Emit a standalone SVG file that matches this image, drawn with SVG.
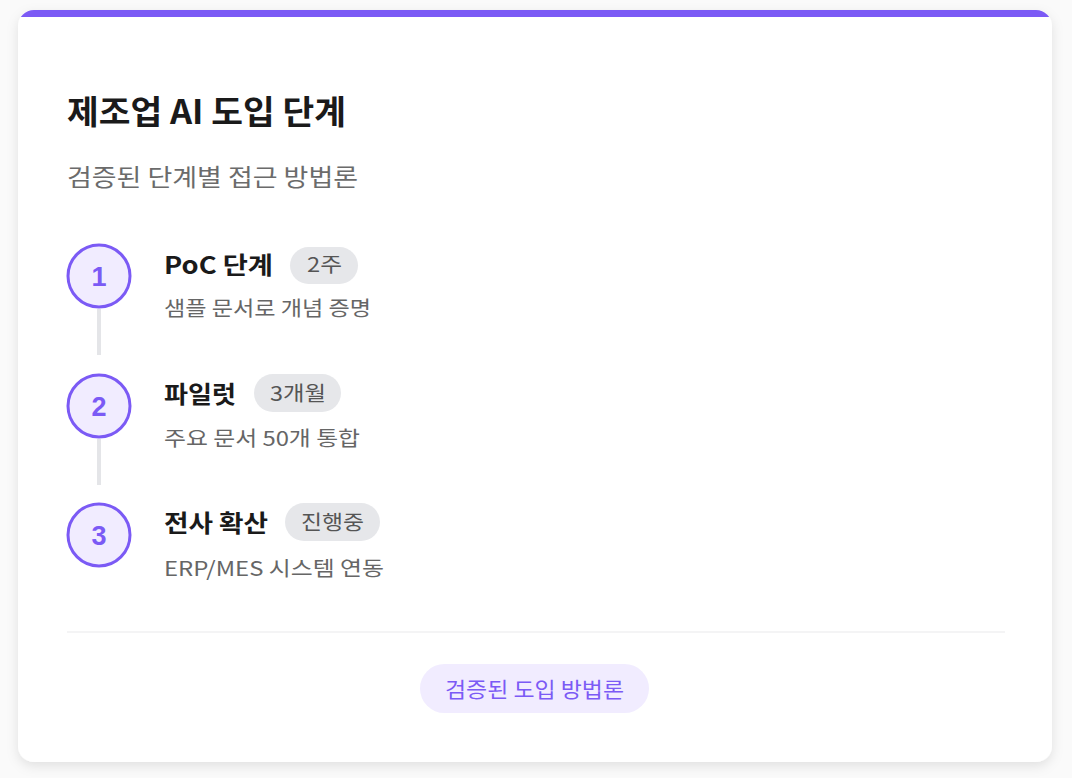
<svg xmlns="http://www.w3.org/2000/svg" width="1072" height="778" viewBox="0 0 1072 778">
<style>
text{font-family:"Noto Sans CJK KR","Noto Sans",sans-serif}
.title{font-size:33px;font-weight:700;fill:#1a1a1a}
.sub{font-size:24px;fill:#6b6b6b}
.st{font-size:24px;font-weight:700;fill:#1a1a1a}
.desc{font-size:20.5px;fill:#666}
.badge{fill:#e6e7ea}
.bt{font-size:20.5px;fill:#555}
.circ{fill:#f1ecff;stroke:#7b5af5;stroke-width:3}
.num{font-size:27px;font-weight:700;fill:#7b5af5;text-anchor:middle;font-family:"Liberation Sans","Noto Sans",sans-serif}
.conn{stroke:#e4e5e8;stroke-width:4}
</style>
<defs>
<filter id="sh" x="-10%" y="-10%" width="120%" height="130%">
<feDropShadow dx="0" dy="4" stdDeviation="6" flood-color="#000" flood-opacity="0.10"/>
</filter>
<clipPath id="cardclip"><rect x="18" y="10" width="1034" height="752" rx="16"/></clipPath>
</defs>
<rect width="1072" height="778" fill="#fafafa"/>
<g id="card">
<rect x="18" y="10" width="1034" height="752" rx="16" fill="#fff" filter="url(#sh)"/>
<g clip-path="url(#cardclip)"><rect x="18" y="10" width="1034" height="7" fill="#7b5af5"/></g>
</g>
<g id="header">
<text class="title" x="67" y="124" textLength="279" lengthAdjust="spacingAndGlyphs">제조업 AI 도입 단계</text>
<text class="sub" x="67" y="186" textLength="291" lengthAdjust="spacingAndGlyphs">검증된 단계별 접근 방법론</text>
</g>
<g id="connectors">
<line class="conn" x1="99" y1="309" x2="99" y2="355"/>
<line class="conn" x1="99" y1="439" x2="99" y2="485"/>
</g>
<g id="step1">
<circle class="circ" cx="99" cy="276" r="31"/>
<text class="num" x="99" y="286">1</text>
<text class="st" x="164" y="274" textLength="109" lengthAdjust="spacingAndGlyphs">PoC 단계</text>
<rect class="badge" x="290" y="247" width="68" height="37" rx="18.5"/>
<text class="bt" x="307" y="272" textLength="35" lengthAdjust="spacingAndGlyphs">2주</text>
<text class="desc" x="164" y="316" textLength="207" lengthAdjust="spacingAndGlyphs">샘플 문서로 개념 증명</text>
</g>
<g id="step2">
<circle class="circ" cx="99" cy="406" r="31"/>
<text class="num" x="99" y="416">2</text>
<text class="st" x="164" y="403" textLength="72" lengthAdjust="spacingAndGlyphs">파일럿</text>
<rect class="badge" x="254" y="374" width="87" height="38" rx="19"/>
<text class="bt" x="270" y="401" textLength="56" lengthAdjust="spacingAndGlyphs">3개월</text>
<text class="desc" x="164" y="446" textLength="196" lengthAdjust="spacingAndGlyphs">주요 문서 50개 통합</text>
</g>
<g id="step3">
<circle class="circ" cx="99" cy="535" r="31"/>
<text class="num" x="99" y="545">3</text>
<text class="st" x="164" y="532" textLength="104" lengthAdjust="spacingAndGlyphs">전사 확산</text>
<rect class="badge" x="285" y="503" width="95" height="38" rx="19"/>
<text class="bt" x="301" y="530" textLength="63" lengthAdjust="spacingAndGlyphs">진행중</text>
<text class="desc" x="164" y="576" textLength="220" lengthAdjust="spacingAndGlyphs">ERP/MES 시스템 연동</text>
</g>
<g id="footer">
<line x1="67" y1="632" x2="1005" y2="632" stroke="#f0f0f2" stroke-width="1.5"/>
<rect x="420" y="664" width="229" height="49" rx="24.5" fill="#f1ecff"/>
<text x="445" y="697" font-size="21" fill="#7b5af5" textLength="179" lengthAdjust="spacingAndGlyphs">검증된 도입 방법론</text>
</g>
</svg>
